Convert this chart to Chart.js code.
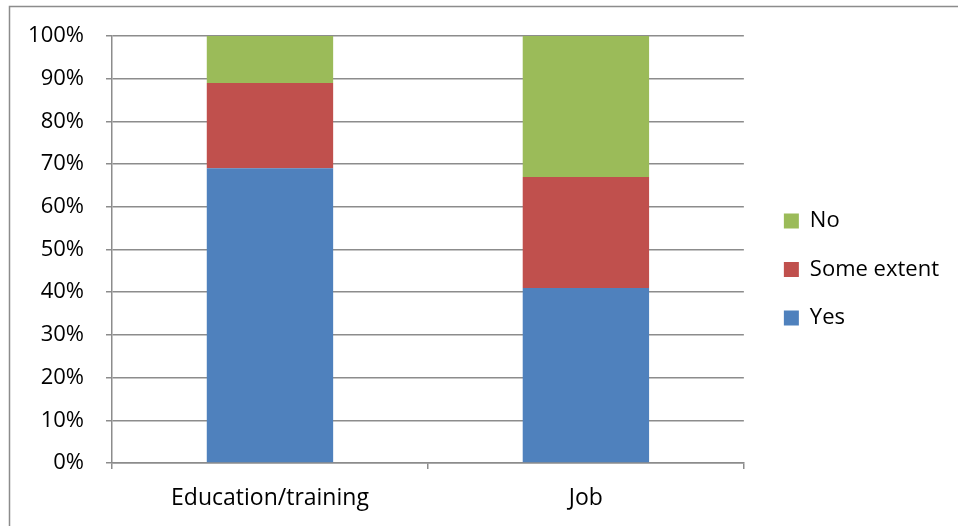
<!DOCTYPE html>
<html>
<head>
<meta charset="utf-8">
<script src="https://cdn.jsdelivr.net/npm/chart.js@4"></script>
<style>
  html, body { margin: 0; padding: 0; background: #fff; }
  canvas { display: block; }
</style>
</head>
<body>
<canvas id="chart" width="958" height="526"></canvas>
<script>
const categories = ['Education/training', 'Job'];
const yes_values = [69, 41];
const some_values = [20, 26];
const no_values = [11, 33];
const y_ticks = [0, 10, 20, 30, 40, 50, 60, 70, 80, 90, 100];

const font_family = "'Open Sans', 'Liberation Sans', sans-serif";
const grid_color = '#8c8c8c';

// outer frame like the office chart border
const frame_plugin = {
  id: 'frame',
  beforeDraw(chart) {
    const c = chart.ctx;
    c.save();
    c.fillStyle = '#fff';
    c.fillRect(0, 0, chart.width, chart.height);
    c.strokeStyle = grid_color;
    c.lineWidth = 1.5;
    c.beginPath();
    c.moveTo(9.5, chart.height);
    c.lineTo(9.5, 6.5);
    c.lineTo(chart.width, 6.5);
    c.stroke();
    c.restore();
  }
};

// let the category labels run below the x scale box without being clipped
const label_room_plugin = {
  id: 'labelRoom',
  afterLayout(chart) {
    chart.scales.x.bottom = chart.height;
  }
};

const ctx = document.getElementById('chart');

const chart_data = {
  labels: categories,
  datasets: [
    { label: 'Yes', data: yes_values, backgroundColor: '#4f81bd', yAxisID: 'y' },
    { label: 'Some extent', data: some_values, backgroundColor: '#c0504d', yAxisID: 'y' },
    { label: 'No', data: no_values, backgroundColor: '#9bbb59', yAxisID: 'y' }
  ]
};

const config = {
  type: 'bar',
  data: chart_data,
  options: {
    responsive: false,
    animation: false,
    devicePixelRatio: 1,
    barPercentage: 0.4,
    categoryPercentage: 1,
    layout: { padding: { top: 36, left: 0, bottom: 23, right: 9 } },
    plugins: {
      legend: {
        position: 'right',
        reverse: true,
        maxWidth: 300,
        labels: {
          boxWidth: 15,
          boxHeight: 15,
          padding: 26.5,
          color: '#000',
          font: { family: font_family, size: 22 }
        }
      },
      tooltip: { enabled: false }
    },
    scales: {
      y: {
        stacked: true,
        min: 0,
        max: 100,
        afterBuildTicks: s => { s.ticks = y_ticks.map(v => ({ value: v })); },
        afterFit: s => { s.width = 112; },
        ticks: {
          callback: v => v + '%',
          color: '#000',
          padding: 22,
          font: { family: font_family, size: 22 }
        },
        grid: { color: grid_color, lineWidth: 1.5, tickLength: 6 },
        border: { color: grid_color, width: 1.5 }
      },
      x: {
        stacked: true,
        afterFit: s => { s.height = 40; },
        ticks: {
          color: '#000',
          padding: 16,
          font: { family: font_family, size: 23 }
        },
        grid: { color: grid_color, lineWidth: 1.5, tickLength: 6, drawOnChartArea: false },
        border: { color: grid_color, width: 1.5 }
      },
      // empty spacer between plot and legend
      gap: {
        position: 'right',
        axis: 'y',
        display: true,
        afterFit: s => { s.width = 13.5; },
        ticks: { display: false },
        grid: { display: false },
        border: { display: false }
      }
    }
  },
  plugins: [frame_plugin, label_room_plugin]
};

const chart = new Chart(ctx, config);
</script>
</body>
</html>
